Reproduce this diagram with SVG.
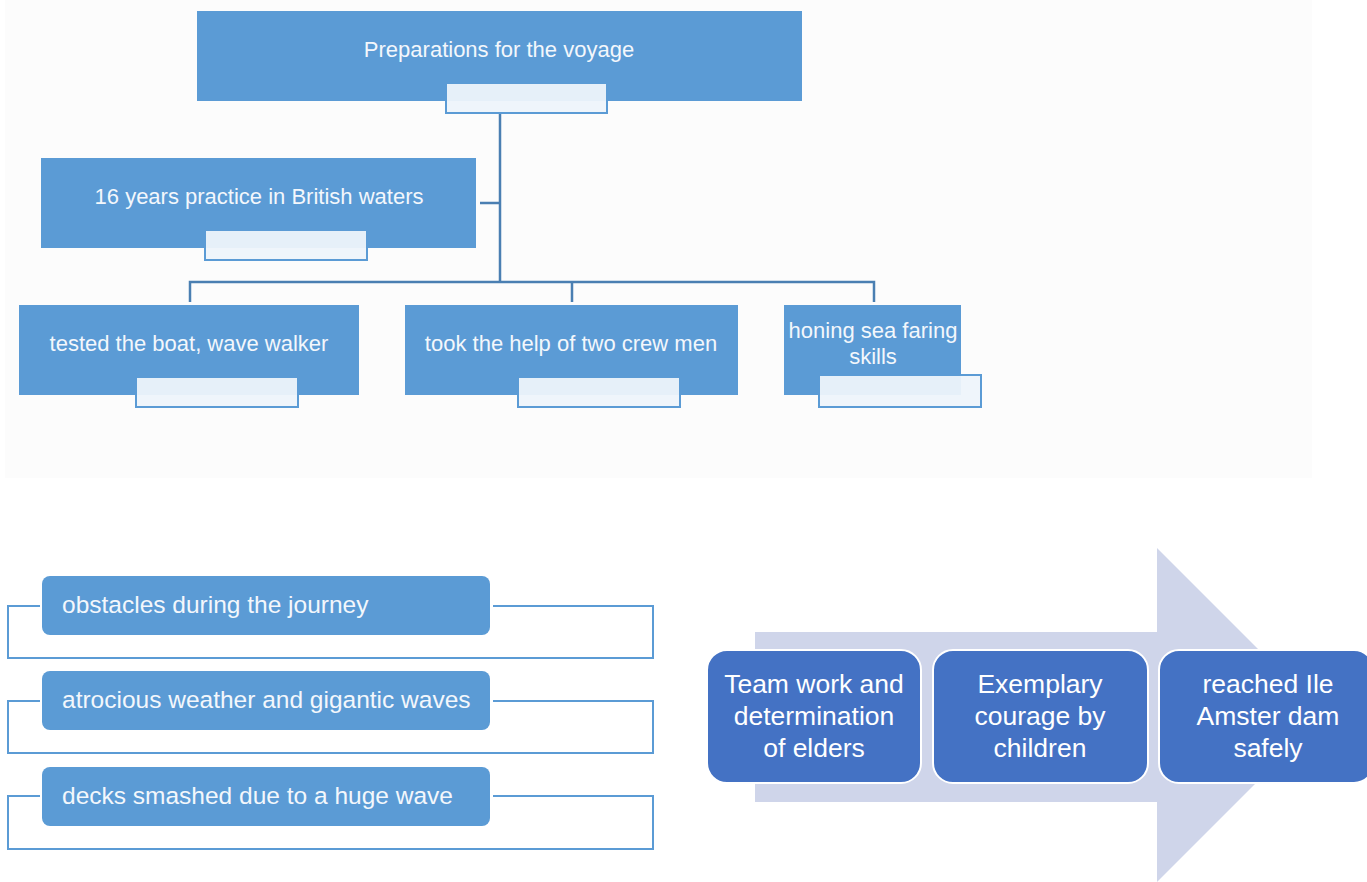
<svg xmlns="http://www.w3.org/2000/svg" width="1367" height="882" viewBox="0 0 1367 882">
<style>
.box{fill:#5b9bd5;}
.lbl{fill:#eef4fb;fill-opacity:0.95;stroke:#5b9bd5;stroke-width:2;}
.t{font-family:"Liberation Sans",Arial,sans-serif;font-size:22px;fill:#f3f7fc;text-anchor:middle;}
.conn{stroke:#4a7fb2;stroke-width:2.5;fill:none;}
.brk{stroke:#5b9bd5;stroke-width:2;fill:none;}
.lb{fill:#5b9bd5;}
.lt{font-family:"Liberation Sans",Arial,sans-serif;font-size:24.5px;fill:#f3f7fc;}
.pb{fill:#4472c4;stroke:#ffffff;stroke-width:2;}
.pt{font-family:"Liberation Sans",Arial,sans-serif;font-size:26.5px;fill:#ffffff;text-anchor:middle;}
</style>
<rect x="0" y="0" width="1367" height="882" fill="#ffffff"/>
<rect x="5" y="0" width="1307" height="478" fill="#fcfcfc"/>

<g id="connectors">
<line class="conn" x1="500" y1="113" x2="500" y2="282"/>
<line class="conn" x1="480" y1="203" x2="500" y2="203"/>
<polyline class="conn" points="190,302 190,282 874,282 874,302"/>
<line class="conn" x1="572" y1="282" x2="572" y2="302"/>
</g>

<g id="n-top">
<rect class="box" x="197" y="11" width="605" height="90"/>
<text class="t" x="499" y="57">Preparations for the voyage</text>
<rect class="lbl" x="446" y="83" width="161" height="30"/>
</g>

<g id="n-practice">
<rect class="box" x="41" y="158" width="435" height="90"/>
<text class="t" x="259" y="204">16 years practice in British waters</text>
<rect class="lbl" x="205" y="230" width="162" height="30"/>
</g>

<g id="n-tested">
<rect class="box" x="19" y="305" width="340" height="90"/>
<text class="t" x="189" y="351">tested the boat, wave walker</text>
<rect class="lbl" x="136" y="377" width="162" height="30"/>
</g>

<g id="n-crew">
<rect class="box" x="405" y="305" width="333" height="90"/>
<text class="t" x="571" y="351">took the help of two crew men</text>
<rect class="lbl" x="518" y="377" width="162" height="30"/>
</g>

<g id="n-honing">
<rect class="box" x="784" y="305" width="177" height="90"/>
<text class="t" x="873" y="338">honing sea faring</text>
<text class="t" x="873" y="364">skills</text>
<rect class="lbl" x="819" y="375" width="162" height="32"/>
</g>

<g id="list-brackets">
<polyline class="brk" points="40,606 8,606 8,658 653,658 653,606 493,606"/>
<polyline class="brk" points="40,701 8,701 8,753 653,753 653,701 493,701"/>
<polyline class="brk" points="40,796 8,796 8,849 653,849 653,796 493,796"/>
</g>

<g id="n-obstacles">
<rect class="lb" x="42" y="576" width="448" height="59" rx="8"/>
<text class="lt" x="62" y="613">obstacles during the journey</text>
</g>
<g id="n-weather">
<rect class="lb" x="42" y="671" width="448" height="59" rx="8"/>
<text class="lt" x="62" y="708">atrocious weather and gigantic waves</text>
</g>
<g id="n-decks">
<rect class="lb" x="42" y="767" width="448" height="59" rx="8"/>
<text class="lt" x="62" y="804">decks smashed due to a huge wave</text>
</g>

<g id="process-arrow">
<polygon points="755,632 1157,632 1157,548 1324,715 1157,882 1157,802 755,802" fill="#cfd5ea"/>
</g>

<g id="n-team">
<rect class="pb" x="707" y="650" width="214" height="133" rx="20"/>
<text class="pt" x="814" y="693">Team work and</text>
<text class="pt" x="814" y="725">determination</text>
<text class="pt" x="814" y="757">of elders</text>
</g>
<g id="n-courage">
<rect class="pb" x="933" y="650" width="215" height="133" rx="20"/>
<text class="pt" x="1040" y="693">Exemplary</text>
<text class="pt" x="1040" y="725">courage by</text>
<text class="pt" x="1040" y="757">children</text>
</g>
<g id="n-reached">
<rect class="pb" x="1159" y="650" width="215" height="133" rx="20"/>
<text class="pt" x="1268" y="693">reached Ile</text>
<text class="pt" x="1268" y="725">Amster dam</text>
<text class="pt" x="1268" y="757">safely</text>
</g>
</svg>
